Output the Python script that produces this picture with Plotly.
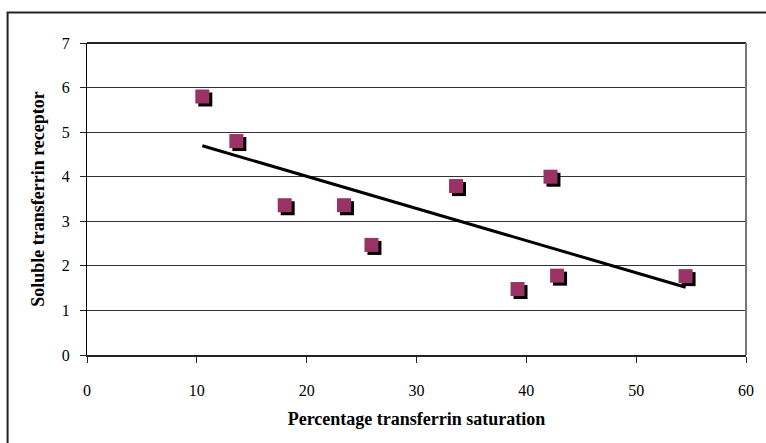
import numpy as np
import plotly.graph_objects as go

# ============================================================
# Data
# ============================================================
saturation = [10.5, 13.6, 18.0, 23.4, 25.9, 33.6, 42.2, 39.2, 42.8, 54.5]
receptor = [5.8, 4.8, 3.36, 3.36, 2.47, 3.79, 4.0, 1.48, 1.78, 1.77]

x_ticks = [0, 10, 20, 30, 40, 50, 60]
y_ticks = [0, 1, 2, 3, 4, 5, 6, 7]

x_title = "Percentage transferrin saturation"
y_title = "Soluble transferrin receptor"

# linear trendline (least squares, like Excel)
slope, intercept = np.polyfit(saturation, receptor, 1)
trend_x = [min(saturation), max(saturation)]
trend_y = [slope * v + intercept for v in trend_x]

# shadow offset (about 3 px in each direction)
x_arr = np.array(saturation)
y_arr = np.array(receptor)
shadow_dx = 3 * 60 / 664
shadow_dy = 3 * 7 / 312

font_family = "Liberation Serif, Times New Roman, serif"
marker_color = "#993366"

fig = go.Figure()

# 1. Trendline
fig.add_trace(go.Scatter(
        x=trend_x, y=trend_y, mode='lines', showlegend=False,
        line=dict(color='black', width=3)
))

# 2. Marker shadows
fig.add_trace(go.Scatter(
        x=x_arr + shadow_dx, y=y_arr - shadow_dy, mode='markers', showlegend=False,
        marker=dict(symbol='square', size=14, color='black', line=dict(width=0))
))

# 3. Markers
fig.add_trace(go.Scatter(
        x=saturation, y=receptor, mode='markers', showlegend=False,
        marker=dict(symbol='square', size=14, color=marker_color, line=dict(width=0))
))

fig.update_layout(
        width=766, height=443,
        margin=dict(l=87, r=15, t=43, b=88),
        plot_bgcolor='white', paper_bgcolor='white',
        font=dict(family=font_family, size=16, color='black'),
        xaxis=dict(
                range=[0, 60], tickvals=x_ticks, showgrid=False, zeroline=False,
                showline=True, linecolor='#222', linewidth=2, mirror=False,
                ticks='outside', ticklen=6, tickcolor='#222',
                ticklabelstandoff=14,
                title=dict(text=f'<b>{x_title}</b>', font=dict(size=18), standoff=14)
        ),
        yaxis=dict(
                range=[0, 7], tickvals=y_ticks, showgrid=True, gridcolor='#333', gridwidth=1,
                zeroline=False, showline=True, linecolor='black', linewidth=1,
                ticks='outside', ticklen=6, tickcolor='#222',
                ticklabelstandoff=7,
                title=dict(text=f'<b>{y_title}</b>', font=dict(size=18), standoff=12)
        ),
        shapes=[
                # plot area top/right border
                dict(type='line', xref='paper', yref='paper', x0=0, x1=1, y0=1, y1=1,
                     line=dict(color='#222', width=2)),
                dict(type='line', xref='paper', yref='paper', x0=1, x1=1, y0=0, y1=1,
                     line=dict(color='#777', width=2)),
                # outer chart border (clipped on right/bottom)
                dict(type='rect', xref='paper', yref='paper', x0=-0.1205, x1=1.1, y0=-0.5, y1=1.098,
                     line=dict(color='#222', width=2), layer='below'),
        ]
)

# the page body has a default 8px margin; remove it so the chart sits at 0,0
fig.write_html("out.html", config={'displayModeBar': False},
               post_script="document.body.style.margin='0';")
